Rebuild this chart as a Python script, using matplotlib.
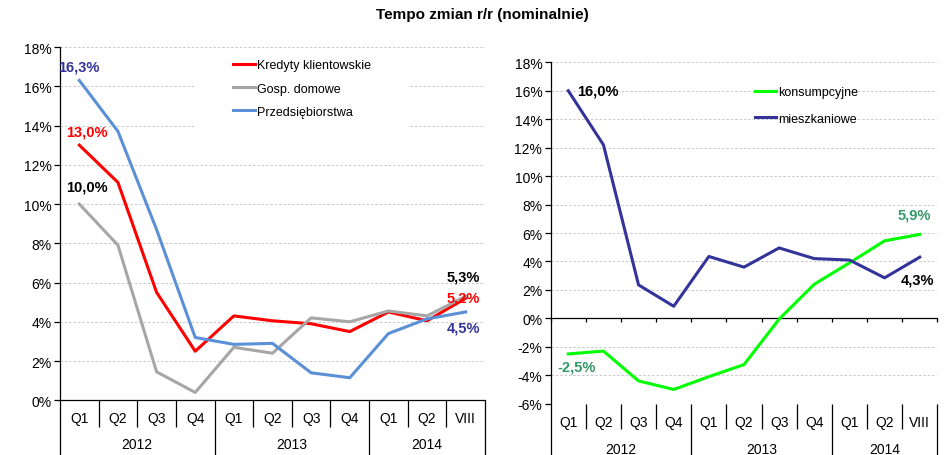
import matplotlib.pyplot as plt
from matplotlib.patches import Rectangle
from matplotlib.ticker import FuncFormatter

plt.rcParams['font.family'] = ['Liberation Sans', 'DejaVu Sans']

# dane
kwartaly = ['Q1', 'Q2', 'Q3', 'Q4', 'Q1', 'Q2', 'Q3', 'Q4', 'Q1', 'Q2', 'VIII']
lata = ['2012', '2013', '2014']
lata_dl = [4, 4, 3]

kredyty = [13.0, 11.1, 5.5, 2.5, 4.3, 4.05, 3.9, 3.5, 4.5, 4.05, 5.2]
gosp_dom = [10.0, 7.9, 1.45, 0.4, 2.7, 2.4, 4.2, 4.0, 4.55, 4.3, 5.3]
przeds = [16.3, 13.7, 8.7, 3.2, 2.85, 2.9, 1.4, 1.15, 3.4, 4.15, 4.5]

konsump = [-2.5, -2.3, -4.4, -5.0, -4.1, -3.25, -0.05, 2.4, 3.9, 5.45, 5.9]
mieszk = [16.0, 12.2, 2.35, 0.85, 4.35, 3.6, 4.95, 4.2, 4.1, 2.85, 4.3]

RED = '#ff0000'
GRAY = '#a6a6a6'
BLUE = '#5b8fd6'
NAVY = '#333399'
LIME = '#00ff00'
GREEN_TXT = '#339966'


def kategorie(ax, y_q, y_rok, dl_q, dl_rok):
    # podpisy kwartalow i lat pod osia + kreski podzialu
    tr = ax.get_xaxis_transform()
    x = range(len(kwartaly))
    for i, q in zip(x, kwartaly):
        ax.text(i, y_q, q, transform=tr, ha='center', va='center', fontsize=10)
    granice = [-0.5]
    start = 0
    for rok, n in zip(lata, lata_dl):
        ax.text(start + (n - 1) / 2, y_rok, rok, transform=tr,
                ha='center', va='center', fontsize=10)
        start += n
        granice.append(start - 0.5)
    for b in [i + 0.5 for i in range(-1, len(kwartaly))]:
        dl = dl_rok if b in granice else dl_q
        ax.plot([b, b], [0, dl], transform=tr, color='black', lw=0.9,
                clip_on=False, solid_capstyle='butt')


def styl(ax, ymin, ymax):
    ax.set_xlim(-0.5, len(kwartaly) - 0.5)
    ax.set_ylim(ymin, ymax)
    ax.set_yticks(range(ymin, ymax + 1, 2))
    ax.yaxis.set_major_formatter(FuncFormatter(lambda v, _: f'{v:.0f}%'))
    ax.tick_params(axis='y', labelsize=10, length=4, width=0.9, pad=2)
    ax.spines['top'].set_visible(False)
    ax.spines['right'].set_visible(False)
    ax.spines['left'].set_linewidth(0.9)
    ax.spines['bottom'].set_linewidth(0.9)
    ax.grid(axis='y', color='#c8c8c8', lw=0.7, linestyle=(0, (2.5, 2)))


fig = plt.figure(figsize=(9.5, 4.56), dpi=100)
fig.text(482 / 950, 1 - 15 / 456, 'Tempo zmian r/r (nominalnie)',
         ha='center', va='center', fontsize=11, fontweight='bold')

# lewy wykres
ax1 = fig.add_axes([60 / 950, (456 - 401.3) / 456, 425 / 950, 353.3 / 456])
styl(ax1, 0, 18)
ax1.set_xticks([])
x = list(range(len(kwartaly)))
lw = 2.2
ax1.plot(x, kredyty, color=RED, lw=lw, label='Kredyty klientowskie', zorder=3)
ax1.plot(x, gosp_dom, color=GRAY, lw=lw, label='Gosp. domowe', zorder=3)
ax1.plot(x, przeds, color=BLUE, lw=lw, label='Przedsiębiorstwa', zorder=3)
ax1.add_patch(Rectangle((0.318, 0.74), 0.505, 0.25, transform=ax1.transAxes,
                        facecolor='white', edgecolor='none', zorder=1.6))
ax1.legend(loc='upper left', bbox_to_anchor=(0.407, 0.965), frameon=False,
           fontsize=9, handlelength=1.8, handletextpad=0.15, labelspacing=0.9,
           borderpad=0, borderaxespad=0)
kategorie(ax1, -0.050, -0.1235, -0.0756, -0.155)

lab = dict(fontsize=10.5, fontweight='bold', textcoords='offset pixels', va='center')
ax1.annotate(f'{przeds[0]:.1f}%'.replace('.', ','), (0, przeds[0]), (-1, 14),
             color=NAVY, ha='center', zorder=4, **lab)
ax1.annotate(f'{kredyty[0]:.1f}%'.replace('.', ','), (0, kredyty[0]), (8, 14),
             color=RED, ha='center', **lab)
ax1.annotate(f'{gosp_dom[0]:.1f}%'.replace('.', ','), (0, gosp_dom[0]), (8, 18),
             color='black', ha='center', **lab)
ax1.annotate(f'{gosp_dom[-1]:.1f}%'.replace('.', ','), (10, gosp_dom[-1]), (-19, 20),
             color='black', ha='left', **lab)
ax1.annotate(f'{kredyty[-1]:.1f}%'.replace('.', ','), (10, kredyty[-1]), (-19, 1),
             color=RED, ha='left', **lab)
ax1.annotate(f'{przeds[-1]:.1f}%'.replace('.', ','), (10, przeds[-1]), (-19, -16),
             color=NAVY, ha='left', **lab)

# prawy wykres
ax2 = fig.add_axes([550.7 / 950, (456 - 404.7) / 456, 386.6 / 950, 341.4 / 456])
styl(ax2, -6, 18)
ax2.spines['bottom'].set_position(('data', 0))
ax2.set_xticks([i - 0.5 for i in range(len(kwartaly) + 1)])
ax2.tick_params(axis='x', length=3, width=0.9, direction='out', labelbottom=False)
ax2.plot(x, konsump, color=LIME, lw=lw, label='konsumpcyjne', zorder=3)
ax2.plot(x, mieszk, color=NAVY, lw=lw, label='mieszkaniowe', zorder=3)
ax2.legend(loc='upper left', bbox_to_anchor=(0.528, 0.93), frameon=False,
           fontsize=9, handlelength=1.7, handletextpad=0.15, labelspacing=1.15,
           borderpad=0, borderaxespad=0)
kategorie(ax2, -0.0536, -0.1327, -0.074, -0.15)

ax2.annotate(f'{mieszk[0]:.1f}%'.replace('.', ','), (0, mieszk[0]), (9, 0),
             color='black', ha='left', **lab)
ax2.annotate(f'{konsump[-1]:.1f}%'.replace('.', ','), (10, konsump[-1]), (-22, 20),
             color=GREEN_TXT, ha='left', **lab)
ax2.annotate(f'{mieszk[-1]:.1f}%'.replace('.', ','), (10, mieszk[-1]), (-19, -22),
             color='black', ha='left', **lab)
ax2.annotate(f'{konsump[0]:.1f}%'.replace('.', ','), (0, konsump[0]), (-11, -13),
             color=GREEN_TXT, ha='left', **lab)

fig.savefig('out.png', dpi=100)
